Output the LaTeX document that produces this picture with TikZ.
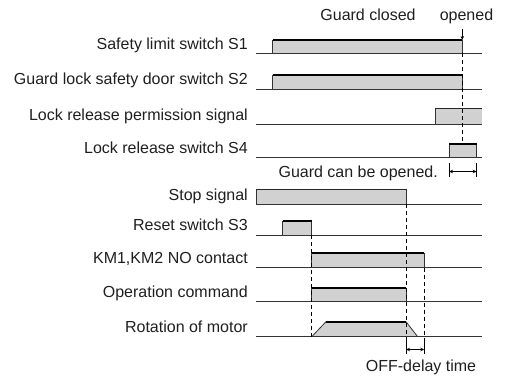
\documentclass[tikz,border=0pt]{standalone}
\usepackage{fontspec}
\setmainfont{Liberation Sans}
\usetikzlibrary{arrows.meta}
\begin{document}
\begin{tikzpicture}[x=1pt,y=-1pt,
  every node/.style={font=\fontsize{16}{19}\selectfont, inner sep=0pt, text=black!88},
  lbl/.style={anchor=base east},
  baseln/.style={draw=black!80, line width=0.9pt},
  pfill/.style={fill=black!18},
  side/.style={draw=black!80, line width=0.8pt},
  hi/.style={draw=black, line width=1.8pt},
  hithin/.style={draw=black!85, line width=1pt},
  guide/.style={draw=black, line width=0.8pt, dash pattern=on 4pt off 3pt},
  dimarrow/.style={draw=black, line width=0.8pt, {Stealth[length=4pt,width=3.5pt]}-{Stealth[length=4pt,width=3.5pt]}},
  ticks/.style={draw=black, line width=0.8pt}]
\useasboundingbox (0,0) rectangle (511,378);

% ---- labels
\node[lbl] (l1) at (248,49)    {Safety limit switch S1};
\node[lbl] (l2) at (248,84.5)  {Guard lock safety door switch S2};
\node[lbl] (l3) at (248,120)   {Lock release permission signal};
\node[lbl] (l4) at (248,153.3) {Lock release switch S4};
\node[lbl] (l5) at (248,200)   {Stop signal};
\node[lbl] (l6) at (248,230.7) {Reset switch S3};
\node[lbl] (l7) at (248,263.3) {KM1,KM2 NO contact};
\node[lbl] (l8) at (248,297.3) {Operation command};
\node[lbl] (l9) at (248,332.3) {Rotation of motor};

\node[anchor=base] (gc) at (368,20) {Guard closed};
\node[anchor=base] (op) at (466.5,20) {opened};
\node[anchor=base east] (gcbo) at (438,177.5) {Guard can be opened.};
\node[anchor=base] (odt) at (421,371.5) {OFF-delay time};

% ---- fills
\fill[pfill] (272.7,40) rectangle (462.3,53.3);
\fill[pfill] (272.7,75.3) rectangle (462.3,89);
\fill[pfill] (435,108.7) rectangle (481.7,124.3);
\fill[pfill] (449,144) rectangle (476.7,157.7);
\fill[pfill] (256,189) rectangle (406,204.3);
\fill[pfill] (282.7,220.7) rectangle (311.7,235);
\fill[pfill] (311.7,253.3) rectangle (424.3,267.7);
\fill[pfill] (311.7,287.7) rectangle (406,301.7);
\fill[pfill] (311.7,336.7) -- (326,321.7) -- (406,321.7) -- (417.7,336.7) -- cycle;

% ---- baselines
\foreach \yy in {53.3,89,124.3,157.7,204.3,235,267.7,301.7,336.7}
  \draw[baseln] (256,\yy) -- (481.7,\yy);

% ---- pulse edges
% S1
\draw[side] (272.7,53.3) -- (272.7,40) (462.3,40) -- (462.3,53.3);
\draw[hi] (272.7,40) -- (462.3,40);
% S2
\draw[side] (272.7,89) -- (272.7,75.3) (462.3,75.3) -- (462.3,89);
\draw[hi] (272.7,75.3) -- (462.3,75.3);
% permission
\draw[side] (435,124.3) -- (435,108.7);
\draw[hithin] (435,108.7) -- (481.7,108.7);
% S4
\draw[side] (449,157.7) -- (449,144) (476.7,144) -- (476.7,157.7);
\draw[hi] (449,144) -- (476.7,144);
% stop signal
\draw[side] (256,204.3) -- (256,189) (406,189) -- (406,204.3);
\draw[hithin] (256,189) -- (406,189);
% reset S3
\draw[side] (282.7,235) -- (282.7,220.7) (311.7,220.7) -- (311.7,235);
\draw[hi] (282.7,220.7) -- (311.7,220.7);
% KM
\draw[side] (311.7,267.7) -- (311.7,253.3) (424.3,253.3) -- (424.3,267.7);
\draw[hi] (311.7,253.3) -- (424.3,253.3);
% operation command
\draw[side] (311.7,301.7) -- (311.7,287.7) (406,287.7) -- (406,301.7);
\draw[hi] (311.7,287.7) -- (406,287.7);
% rotation
\draw[side] (311.7,336.7) -- (326,321.7) (406,321.7) -- (417.7,336.7);
\draw[hi] (326,321.7) -- (406,321.7);

% ---- guides
\coordinate (opA) at (462.3,29);
\coordinate (opB) at (462.3,40);
\draw[black, line width=0.8pt, -{Stealth[length=4pt,width=3.5pt]}] (opA) -- (opB);
\draw[guide] (462.3,53.3) -- (462.3,142);
\draw[guide] (311.7,235) -- (311.7,336.7);
\draw[guide] (406,204.3) -- (406,341);
\draw[guide] (424.3,267.7) -- (424.3,341);

% ---- dimensions
\coordinate (g1a) at (449,163);  \coordinate (g1b) at (449,177);
\coordinate (g2a) at (476.7,163);\coordinate (g2b) at (476.7,177);
\draw[ticks] (g1a) -- (g1b) (g2a) -- (g2b);
\draw[dimarrow] (449,171.5) -- (476.7,171.5);

\coordinate (d1a) at (406,340);  \coordinate (d1b) at (406,354);
\coordinate (d2a) at (424.3,340);\coordinate (d2b) at (424.3,354);
\draw[ticks] (d1a) -- (d1b) (d2a) -- (d2b);
\draw[dimarrow] (406,349.5) -- (424.3,349.5);
\end{tikzpicture}
\end{document}
